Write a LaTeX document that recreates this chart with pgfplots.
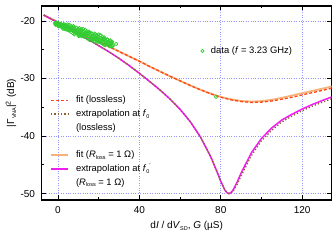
\documentclass[border=0pt]{standalone}
\usepackage{pgfplots}
\pgfplotsset{compat=1.18}
\usepackage{fontspec}
\setmainfont{Liberation Sans}
\definecolor{fitc}{RGB}{255,70,20}
\definecolor{extc}{RGB}{140,95,55}
\definecolor{fitr}{RGB}{245,178,122}
\definecolor{extr}{RGB}{240,30,240}
\definecolor{datac}{RGB}{50,205,50}
\definecolor{gridc}{RGB}{150,150,255}
\newcommand{\sub}[1]{\raisebox{-0.35ex}{\fontsize{5.5}{6}\selectfont #1}}
\pgfplotstableread{
x y
-1.50 -20.38
-1.12 -20.67
-0.74 -20.36
-0.36 -20.61
0.02 -20.33
0.40 -20.94
0.78 -20.60
1.16 -20.93
1.54 -20.52
1.92 -20.85
2.30 -21.07
2.68 -20.66
3.06 -21.38
3.44 -20.94
3.82 -20.66
4.20 -21.31
4.58 -20.95
4.96 -21.60
5.34 -21.35
5.72 -20.67
6.10 -21.31
6.48 -21.92
6.86 -21.11
7.24 -21.68
7.62 -20.88
8.00 -22.34
8.38 -21.43
8.76 -22.12
9.14 -21.21
9.52 -21.82
9.90 -22.19
10.28 -21.44
10.66 -22.60
11.04 -21.85
11.42 -21.42
11.80 -22.35
12.18 -21.84
12.56 -22.69
12.94 -22.34
13.32 -21.51
13.70 -22.27
14.08 -22.96
14.46 -22.05
14.84 -22.66
15.22 -21.83
15.60 -23.32
15.98 -22.41
16.36 -23.09
16.74 -22.18
17.12 -22.79
17.50 -23.16
17.88 -22.41
18.26 -23.58
18.64 -22.83
19.02 -22.40
19.40 -23.32
19.78 -22.81
20.16 -23.66
20.54 -23.31
20.92 -22.48
21.30 -23.25
21.68 -23.94
22.06 -23.03
22.44 -23.63
22.82 -22.85
23.20 -24.22
23.58 -23.41
23.96 -24.01
24.34 -23.25
24.72 -23.76
25.10 -24.06
25.48 -23.51
25.86 -24.36
26.24 -23.85
26.62 -23.59
27.00 -24.21
-1.31 -20.52
-0.93 -20.24
-0.55 -20.47
-0.17 -20.82
0.21 -20.44
0.59 -20.81
0.97 -20.72
1.35 -20.50
1.73 -21.03
2.11 -20.74
2.49 -21.33
2.87 -20.54
3.25 -21.12
3.63 -20.80
4.01 -21.50
4.39 -21.10
4.77 -20.61
5.15 -21.32
5.53 -21.70
5.91 -21.09
6.29 -21.61
6.67 -20.88
7.05 -21.35
7.43 -22.16
7.81 -21.13
8.19 -21.97
8.57 -21.70
8.95 -21.19
9.33 -22.19
9.71 -21.60
10.09 -22.61
10.47 -21.22
10.85 -22.15
11.23 -21.64
11.61 -22.65
11.99 -22.06
12.37 -21.38
12.75 -22.31
13.13 -22.76
13.51 -22.01
13.89 -22.62
14.27 -21.79
14.65 -22.32
15.03 -23.16
15.41 -22.09
15.79 -22.94
16.17 -22.67
16.55 -22.16
16.93 -23.17
17.31 -22.58
17.69 -23.58
18.07 -22.19
18.45 -23.12
18.83 -22.61
19.21 -23.62
19.59 -23.03
19.97 -22.36
20.35 -23.29
20.73 -23.73
21.11 -22.98
21.49 -23.59
21.87 -22.76
22.25 -23.29
22.63 -24.11
23.01 -23.10
23.39 -23.88
23.77 -23.64
24.15 -23.22
24.53 -24.06
24.91 -23.60
25.29 -24.38
25.67 -23.36
26.05 -24.05
26.43 -23.72
26.81 -24.39
28.60 -24.00
77.60 -33.20
}\datatable
\pgfplotstableread{
x y
-7 -19.0
-5 -19.35
0 -20.2
5 -21.05
10 -21.9
15 -22.75
20 -23.6
25 -24.45
30 -25.3
35 -26.15
40 -27.0
45 -27.9
50 -28.75
55 -29.6
60 -30.4
65 -31.2
70 -31.95
75 -32.65
80 -33.25
85 -33.7
90 -34.0
95 -34.15
100 -34.1
105 -33.9
110 -33.6
115 -33.25
120 -32.85
125 -32.45
130 -32.05
134.5 -31.7
}\fittable
\pgfplotstableread{
x y
-7 -19.0
-5 -19.35
0 -20.2
5 -21.05
10 -21.9
15 -22.75
20 -23.6
25 -24.45
30 -25.3
35 -26.15
40 -27.0
45 -27.9
50 -28.75
55 -29.6
60 -30.4
65 -31.2
70 -31.95
75 -32.6
80 -33.2
85 -33.6
90 -33.9
95 -34.0
100 -33.92
105 -33.7
110 -33.35
115 -32.95
120 -32.55
125 -32.15
130 -31.75
134.5 -31.4
}\fitrtable
\pgfplotstableread{
x y
-7 -18.96
-5 -19.35
0 -20.30
5 -21.27
10 -22.25
15 -23.25
20 -24.29
25 -25.35
30 -26.5
35 -27.75
40 -29.1
45 -30.5
50 -31.95
55 -33.55
60 -35.35
65 -37.5
70 -40.15
75 -43.55
78 -46.07
80 -47.85
82 -49.37
83 -49.8
84 -50.0
85 -49.8
86 -49.39
88 -48.0
90 -46.41
95 -42.92
100 -40.4
105 -38.6
110 -37.2
115 -36.2
120 -35.3
125 -34.5
130 -33.8
134.5 -33.2
}\extrtable
\pgfplotstableread{
x y
-7 -18.96
-5 -19.35
0 -20.30
5 -21.27
10 -22.25
15 -23.25
20 -24.29
25 -25.35
30 -26.5
35 -27.75
40 -29.1
45 -30.5
50 -31.95
55 -33.55
60 -35.35
65 -37.5
70 -40.15
75 -43.55
78 -46.07
80 -47.85
82 -49.37
83 -49.8
84 -50.0
85 -49.9
86 -49.6
88 -48.4
90 -46.9
95 -43.4
100 -40.8
105 -39.0
110 -37.55
115 -36.5
120 -35.6
125 -34.8
130 -34.1
134.5 -33.5
}\exttable
\begin{document}
\begin{tikzpicture}
\useasboundingbox (-41.7pt,-40pt) rectangle (294.3pt,200pt);
\begin{axis}[
  scale only axis, width=290pt, height=194pt,
  xmin=-8, xmax=134.5, ymin=-51.1, ymax=-17.4,
  xtick={0,40,80,120}, minor xtick={20,60,100},
  ytick={-50,-40,-30,-20}, yticklabels={-50,-40,-30,-20}, minor ytick={-45,-35,-25},
  /pgf/number format/assume math mode=true,
  tick align=inside, major tick length=4.5pt, minor tick length=2.5pt,
  every tick/.style={black, line width=0.9pt},
  axis line style={line width=1.3pt},
  grid=major, major grid style={gridc, dotted, line width=0.6pt},
  tick label style={font=\fontsize{10}{12}\selectfont},
  xticklabel style={inner sep=0pt, anchor=north, yshift=-6pt},
  yticklabel style={inner sep=0pt, anchor=east, xshift=-6.5pt},
  xlabel={d\textit{I} / d\textit{V}\sub{SD}, \textit{G} (µS)},
  xlabel style={font=\fontsize{10}{12}\selectfont, at={(axis description cs:0.5,-0.111)}, anchor=north, inner sep=0pt},
  ylabel={|Γ\sub{VNA}|\textsuperscript{2} (dB)},
  ylabel style={font=\fontsize{10}{12}\selectfont, at={(axis description cs:-0.1059,0.5)}, anchor=center, inner sep=0pt},
  legend style={at={(axis description cs:0.548,0.768)}, anchor=west, draw=none, fill=none, inner sep=0pt,
    font=\fontsize{9.4}{11}\selectfont, nodes={inner sep=0pt},
    /tikz/every odd column/.append style={column sep=6.75pt}},
  legend cell align=left,
]
\addplot[only marks, mark=o, mark size=1.7pt, datac, mark options={line width=0.7pt}] table[x=x,y=y] {\datatable};
\addlegendentry{data (\textit{f} = 3.23 GHz)}
\addplot[fitr, line width=1.8pt, forget plot] table[x=x,y=y] {\fitrtable};
\addplot[fitc, line width=1.3pt, dash pattern=on 3pt off 2pt, forget plot] table[x=x,y=y] {\fittable};
\addplot[extr, line width=1.5pt, forget plot] table[x=x,y=y] {\extrtable};
\addplot[extc, line width=1.3pt, dash pattern=on 1.3pt off 2pt, forget plot] table[x=x,y=y] {\exttable};
\end{axis}
\begin{axis}[
  scale only axis, width=290pt, height=194pt, hide axis,
  xmin=0, xmax=1, ymin=0, ymax=1,
  legend style={at={(axis description cs:0.0286,0.540)}, anchor=north west, draw=none, fill=none, inner sep=0pt,
    font=\fontsize{9.4}{11}\selectfont, nodes={inner sep=0pt, text height=7.5pt, text depth=2.2pt}, row sep=4pt,
    /tikz/every odd column/.append style={column sep=7pt}},
  legend cell align=left,
]
\addlegendimage{fitc, line width=1.3pt, dash pattern=on 3pt off 2pt}
\addlegendentry{fit (lossless)}
\addlegendimage{extc, line width=1.3pt, dash pattern=on 1.3pt off 2pt}
\addlegendentry{extrapolation at \textit{f}\sub{0}}
\addlegendimage{empty legend}
\addlegendentry{(lossless)}
\addlegendimage{empty legend}
\addlegendentry{\strut}
\addlegendimage{fitr, line width=1.8pt}
\addlegendentry{fit (\textit{R}\sub{loss} = 1 Ω)}
\addlegendimage{extr, line width=1.5pt}
\addlegendentry{extrapolation at \textit{f}\sub{0}\raisebox{0.7ex}{\fontsize{6}{6}\selectfont '}}
\addlegendimage{empty legend}
\addlegendentry{(\textit{R}\sub{loss} = 1 Ω)}
\end{axis}
\end{tikzpicture}
\end{document}
